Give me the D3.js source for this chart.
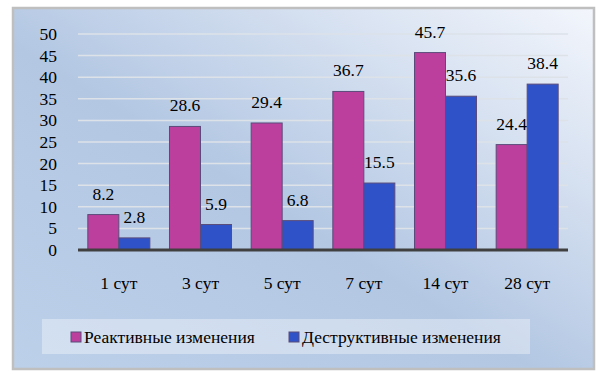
<!DOCTYPE html>
<html>
<head>
<meta charset="utf-8">
<script src="https://cdn.jsdelivr.net/npm/d3@7"></script>
<style>
  body { margin: 0; background: #fff; }
</style>
</head>
<body>
<div id="chart"></div>
<script>
// data
const days = ["1 сут", "3 сут", "5 сут", "7 сут", "14 сут", "28 сут"];
const series = ["Реактивные изменения", "Деструктивные изменения"];
const reactive = [8.2, 28.6, 29.4, 36.7, 45.7, 24.4];
const destructive = [2.8, 5.9, 6.8, 15.5, 35.6, 38.4];
const yTicks = [0, 5, 10, 15, 20, 25, 30, 35, 40, 45, 50];
const colors = ["#bd3f9d", "#2f52c9"];

const width = 606, height = 378;
const values = [reactive, destructive];
const fs = 17.5;

const svg = d3.select("#chart").append("svg")
  .attr("width", width)
  .attr("height", height)
  .style("font-family", "'Liberation Serif', 'Times New Roman', serif");

// background gradient
const grad = svg.append("defs").append("linearGradient")
  .attr("id", "bg")
  .attr("x1", 0).attr("y1", 1).attr("x2", 1).attr("y2", 0);
grad.append("stop").attr("offset", 0).attr("stop-color", "#bdd0ea");
grad.append("stop").attr("offset", 0.45).attr("stop-color", "#b3c7e3");
grad.append("stop").attr("offset", 1).attr("stop-color", "#f3f6fc");

svg.append("rect")
  .attr("x", 13).attr("y", 8)
  .attr("width", 581).attr("height", 361)
  .attr("fill", "url(#bg)")
  .attr("stroke", "#bfbfbf")
  .attr("stroke-width", 2.5);

const x0 = d3.scaleBand().domain(days).range([78, 568]);
const x1 = d3.scaleBand().domain(series).range([0, x0.bandwidth()]).paddingOuter(0.317);
const y = d3.scaleLinear().domain([0, 50]).range([250, 34]);

// gridlines
svg.append("g")
  .selectAll("line")
  .data(yTicks.filter(d => d > 0))
  .join("line")
  .attr("x1", 78).attr("x2", 568)
  .attr("y1", d => y(d)).attr("y2", d => y(d))
  .attr("stroke", "#dde2e8")
  .attr("stroke-width", 1.5);

// y tick labels
svg.append("g")
  .selectAll("text")
  .data(yTicks)
  .join("text")
  .attr("x", 57)
  .attr("y", d => y(d))
  .attr("dy", "0.34em")
  .attr("text-anchor", "end")
  .attr("font-size", fs)
  .attr("fill", "#000")
  .text(d => d);

// bars
const groups = svg.append("g")
  .selectAll("g")
  .data(days)
  .join("g")
  .attr("transform", d => `translate(${x0(d)},0)`);

groups.selectAll("rect")
  .data((d, i) => series.map((s, j) => ({ s, j, v: values[j][i] })))
  .join("rect")
  .attr("x", d => x1(d.s))
  .attr("y", d => y(d.v))
  .attr("width", x1.bandwidth())
  .attr("height", d => y(0) - y(d.v))
  .attr("fill", d => colors[d.j])
  .attr("stroke", "#5a4c7a")
  .attr("stroke-width", 1);

groups.selectAll("text")
  .data((d, i) => series.map((s, j) => ({ s, j, v: values[j][i] })))
  .join("text")
  .attr("x", d => x1(d.s) + x1.bandwidth() / 2)
  .attr("y", d => y(d.v) - 15)
  .attr("text-anchor", "middle")
  .attr("font-size", fs)
  .text(d => d3.format(".1f")(d.v));

// baseline
svg.append("line")
  .attr("x1", 78).attr("x2", 568)
  .attr("y1", y(0)).attr("y2", y(0))
  .attr("stroke", "#404040")
  .attr("stroke-width", 3);

// x labels
svg.append("g")
  .selectAll("text")
  .data(days)
  .join("text")
  .attr("x", d => x0(d) + x0.bandwidth() / 2)
  .attr("y", 289)
  .attr("text-anchor", "middle")
  .attr("font-size", fs)
  .text(d => d);

// legend
svg.append("rect")
  .attr("x", 42).attr("y", 319)
  .attr("width", 488).attr("height", 35)
  .attr("fill", "#ffffff")
  .attr("fill-opacity", 0.35);

const legendX = [71, 289];
const leg = svg.append("g")
  .selectAll("g")
  .data(series)
  .join("g")
  .attr("transform", (d, i) => `translate(${legendX[i]},332)`);

leg.append("rect")
  .attr("width", 10).attr("height", 10)
  .attr("fill", (d, i) => colors[i])
  .attr("stroke", "#5a4c7a");

leg.append("text")
  .attr("x", 13)
  .attr("y", 11)
  .attr("font-size", fs)
  .text(d => d);
</script>
</body>
</html>
